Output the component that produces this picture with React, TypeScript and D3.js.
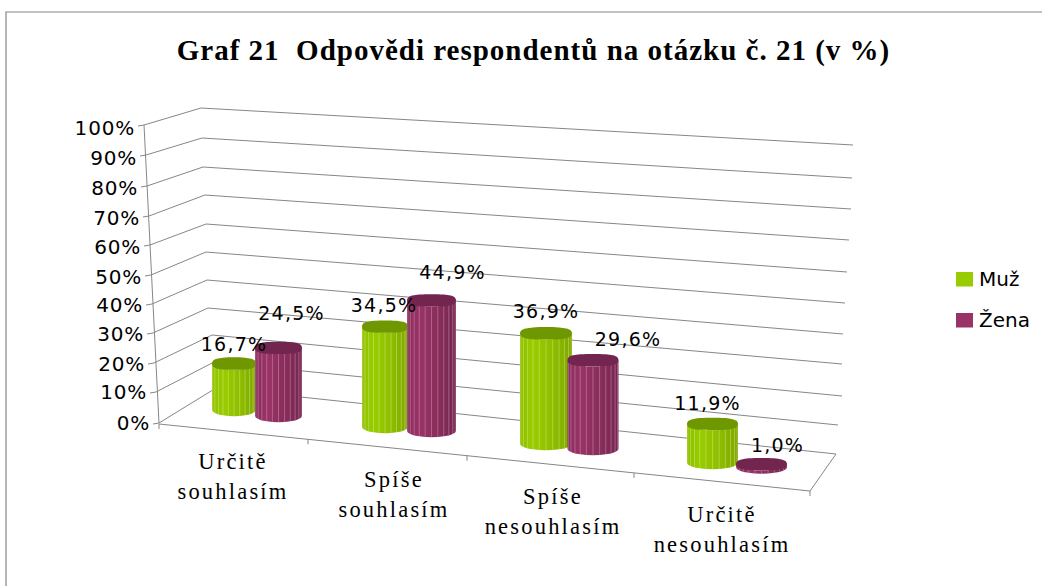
import React from "react";
import * as d3 from "d3";

const title = "Graf 21  Odpovědi respondentů na otázku č. 21 (v %)";
const categories = [["Určitě", "souhlasím"], ["Spíše", "souhlasím"], ["Spíše", "nesouhlasím"], ["Určitě", "nesouhlasím"]];
const seriesNames = ["Muž", "Žena"];
const muz = [16.7, 34.5, 36.9, 11.9];
const zena = [24.5, 44.9, 29.6, 1.0];
const valueLabels = [["16,7%", "34,5%", "36,9%", "11,9%"], ["24,5%", "44,9%", "29,6%", "1,0%"]];
const ticks = [0, 10, 20, 30, 40, 50, 60, 70, 80, 90, 100];

const pct = [0, 10, 20, 30, 40, 50, 60, 70, 80, 90, 100];
const cats = [0, 1, 2, 3];
const edges = [0, 1, 2, 3, 4];

// 3D frame, read as piecewise scales
const frontX = d3.scaleLinear().domain(pct).range([159, 156, 154, 153, 152, 151, 150, 149, 147, 146, 144]);
const frontY = d3.scaleLinear().domain(pct).range([423, 392, 363, 333, 304, 275, 245, 216, 186, 155, 125]);
const backLX = d3.scaleLinear().domain(pct).range([216, 214, 212, 208, 207, 206, 206, 205, 203, 202, 201]);
const backLY = d3.scaleLinear().domain(pct).range([388, 362, 335, 308, 280, 252, 224, 195, 167, 138, 108]);
const backRX = d3.scaleLinear().domain(pct).range([836, 838, 842, 842, 843, 845, 847, 849, 851, 852, 853]);
const backRY = d3.scaleLinear().domain(pct).range([454, 425, 396, 364, 334, 303, 272, 240, 209, 178, 145]);
const edgeX = d3.scaleLinear().domain(edges).range([159, 308, 467, 634, 810]);
const edgeY = d3.scaleLinear().domain([159, 810]).range([424, 491]);

// bar placement per series
const barX = [
  d3.scaleLinear().domain(cats).range([234, 385, 546, 712.5]),
  d3.scaleLinear().domain(cats).range([278.5, 431.5, 593, 761.5]),
];
const barBase = [
  d3.scaleLinear().domain(cats).range([410, 427, 444, 463]),
  d3.scaleLinear().domain(cats).range([416, 431, 449, 467.5]),
];
const barR = [
  d3.scaleLinear().domain(cats).range([22, 23, 26, 25.5]),
  d3.scaleLinear().domain(cats).range([23.5, 24.5, 25.5, 25.5]),
];
const pxPerPct = d3.scaleLinear().domain(cats).range([2.78, 2.91, 3.0, 3.28]);
const RY = 6.2;

const labelX = d3.scaleLinear().domain(cats).range([233, 394, 553, 722]);
const labelY = d3.scaleLinear().domain(cats).range([469, 487, 504, 522]);
const tickShift = d3.scaleLinear().domain([0, 100]).range([7, 10]);

const valueDX = [[0, -1, 0, -5], [13, 21, 35, 16]];
const valueDY = [[-13, -15, -15, -14], [-28, -21, -14, -12]];

const colors = [
  { top: "#6F9700", a: "#99CC00", b: "#8FBF00", c: "#7FA800", stripe: "#E4F6A0" },
  { top: "#72264F", a: "#993366", b: "#8A2E5C", c: "#752750", stripe: "#E5B5CE" },
];
const GRID = "#868686";
const AXIS_FONT = "'DejaVu Sans', sans-serif";
const SERIF = "'Liberation Serif', serif";

const topLine = d3.line<[number, number]>().curve(d3.curveCatmullRomClosed);

function topPoints(cx: number, cy: number, r: number): [number, number][] {
  const n = 16;
  return d3.range(n).map((i) => {
    const t = (i / n) * 2 * Math.PI;
    const c = Math.cos(t);
    const s = Math.sin(t);
    const e = 0.72;
    const bump = i % 4 === 2 ? 1.0 : 1.0;
    return [cx + r * Math.sign(c) * Math.pow(Math.abs(c), e) * bump, cy + RY * Math.sign(s) * Math.pow(Math.abs(s), e) * bump] as [number, number];
  });
}

function Cylinder({ s, c, v }: { s: number; c: number; v: number }) {
  const cx = barX[s](c);
  const base = barBase[s](c);
  const r = barR[s](c);
  const topY = base - v * pxPerPct(c);
  const col = colors[s];
  const arc = (y: number) =>
    d3.range(0, 13).map((i) => {
      const t = (i / 12) * Math.PI;
      return [cx + r * Math.cos(t), y + RY * Math.sin(t)];
    });
  const side = [...arc(base), ...arc(topY).reverse()];
  const stripes = d3.range(1, 12).map((i) => cx + r * Math.cos((i / 12) * Math.PI));
  return (
    <g>
      <path d={"M" + side.map((p) => p.join(",")).join("L") + "Z"} fill={`url(#grad${s})`} />
      {stripes.map((x, i) => {
        const t = ((i + 1) / 12) * Math.PI;
        const dy = RY * Math.sin(t);
        return (
          <line key={i} x1={x} x2={x} y1={topY + dy} y2={base + dy} stroke={col.stripe} strokeOpacity={0.42} strokeWidth={0.9} />
        );
      })}
      <path d={topLine(topPoints(cx, topY, r)) || ""} fill={col.top} />
    </g>
  );
}

export default function App() {
  const data = [muz, zena];
  return (
    <svg width={1042} height={586} style={{ position: "absolute", left: 0, top: 0, background: "#fff" }}>
      <defs>
        {colors.map((col, i) => (
          <linearGradient key={i} id={`grad${i}`} x1="0" x2="1" y1="0" y2="0">
            <stop offset="0" stopColor={col.b} />
            <stop offset="0.25" stopColor={col.a} />
            <stop offset="0.6" stopColor={col.b} />
            <stop offset="1" stopColor={col.c} />
          </linearGradient>
        ))}
      </defs>
      <path d="M6,586V12H1042" fill="none" stroke="#868686" strokeWidth={1.2} />
      <text x={533.5} y={60} textAnchor="middle" fontFamily={SERIF} fontWeight="bold" fontSize={29} letterSpacing={1} fill="#000" style={{ whiteSpace: "pre" }}>
        {title}
      </text>

      {ticks.map((t) => (
        <g key={t}>
          <polyline
            points={`${frontX(t) - 6},${frontY(t) + 1} ${frontX(t)},${frontY(t)} ${backLX(t)},${backLY(t)} ${backRX(t)},${backRY(t)}`}
            fill="none"
            stroke={GRID}
            strokeWidth={1}
          />
          <text x={frontX(t) - 9} y={frontY(t) + tickShift(t)} textAnchor="end" fontFamily={AXIS_FONT} fontSize={20} letterSpacing={0.8} fill="#000">
            {t}%
          </text>
        </g>
      ))}
      <line x1={frontX(100)} y1={frontY(100)} x2={frontX(0)} y2={frontY(0)} stroke={GRID} />
      <line x1={edgeX(0)} y1={edgeY(edgeX(0))} x2={edgeX(4)} y2={edgeY(edgeX(4))} stroke={GRID} />
      <line x1={edgeX(4)} y1={edgeY(edgeX(4))} x2={backRX(0)} y2={backRY(0)} stroke={GRID} />
      {edges.map((e) => (
        <line key={e} x1={edgeX(e)} x2={edgeX(e)} y1={edgeY(edgeX(e))} y2={edgeY(edgeX(e)) + 5} stroke={GRID} />
      ))}

      {seriesNames.map((_, s) => cats.map((c) => <Cylinder key={`${s}-${c}`} s={s} c={c} v={data[s][c]} />))}

      {seriesNames.map((_, s) =>
        cats.map((c) => (
          <text
            key={`${s}-${c}`}
            x={barX[s](c) + valueDX[s][c]}
            y={barBase[s](c) - data[s][c] * pxPerPct(c) + valueDY[s][c]}
            textAnchor="middle"
            fontFamily={AXIS_FONT}
            fontSize={19}
            letterSpacing={1.2}
            fill="#000"
          >
            {valueLabels[s][c]}
          </text>
        ))
      )}

      {categories.map((lines, c) =>
        lines.map((l, i) => (
          <text key={i} x={labelX(c)} y={labelY(c) + i * 29.5} textAnchor="middle" fontFamily={SERIF} fontSize={22.5} letterSpacing={2.2} fill="#000">
            {l}
          </text>
        ))
      )}

      {seriesNames.map((n, i) => (
        <g key={n}>
          <rect x={956} y={272 + i * 41} width={17} height={14.5} fill={colors[i].a} />
          <text x={979} y={285.5 + i * 41} fontFamily={AXIS_FONT} fontSize={20} fill="#000">
            {n}
          </text>
        </g>
      ))}
    </svg>
  );
}
